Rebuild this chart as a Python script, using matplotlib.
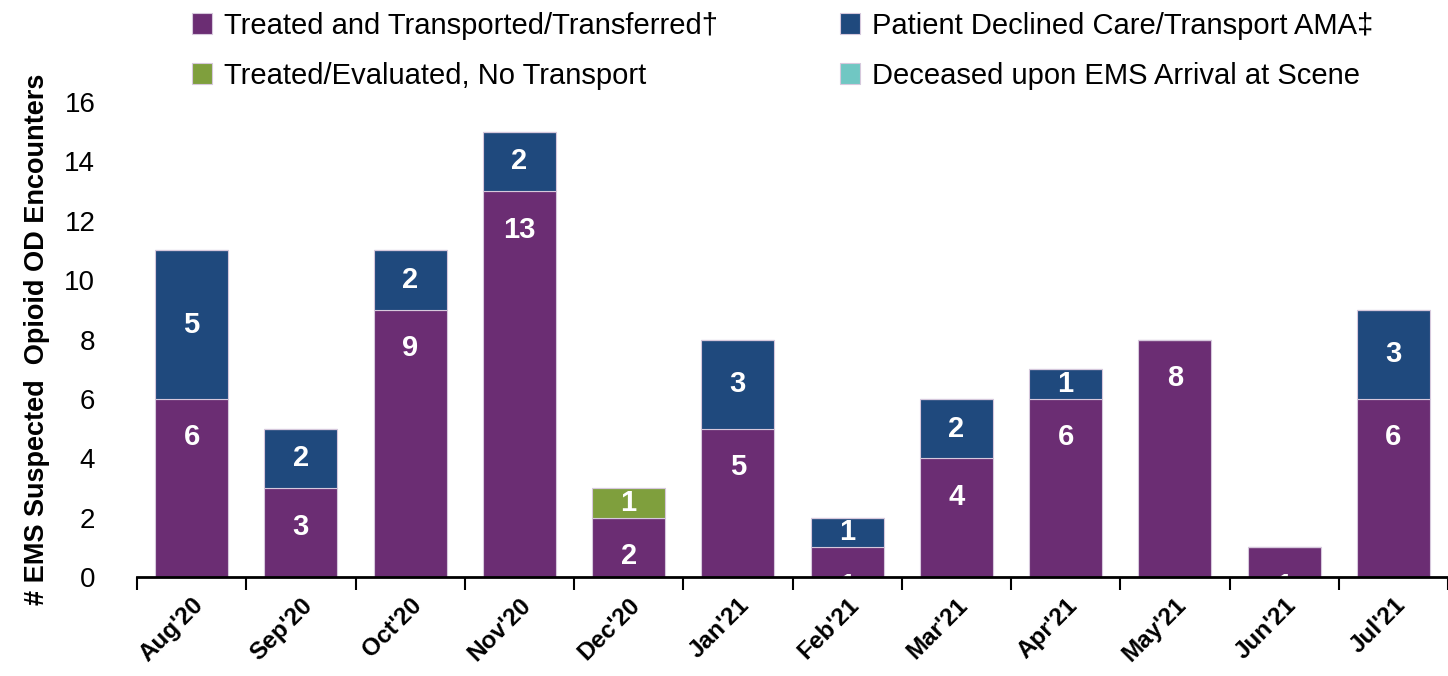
import matplotlib
matplotlib.use("Agg")
import matplotlib.pyplot as plt
import numpy as np

plt.rcParams['font.family'] = ['Liberation Sans', 'DejaVu Sans']

months = ["Aug'20", "Sep'20", "Oct'20", "Nov'20", "Dec'20", "Jan'21",
          "Feb'21", "Mar'21", "Apr'21", "May'21", "Jun'21", "Jul'21"]
transported = [6, 3, 9, 13, 2, 5, 1, 4, 6, 8, 1, 6]
declined_ama = [5, 2, 2, 2, 0, 3, 1, 2, 1, 0, 0, 3]
no_transport = [0, 0, 0, 0, 1, 0, 0, 0, 0, 0, 0, 0]
deceased = [0, 0, 0, 0, 0, 0, 0, 0, 0, 0, 0, 0]

series = [
    ("Treated and Transported/Transferred\u2020", transported, '#6b2d73'),
    ("Patient Declined Care/Transport AMA\u2021", declined_ama, '#1f497d'),
    ("Treated/Evaluated, No Transport", no_transport, '#7f9f3d'),
    ("Deceased upon EMS Arrival at Scene", deceased, '#70c7c3'),
]

fig = plt.figure(figsize=(14.48, 6.76), dpi=100)
ax = fig.add_axes([137 / 1448, 99 / 676, 1311 / 1448, 475 / 676])

ind = np.arange(len(months))
width = 0.67
bottom = np.zeros(len(months))
handles = {}
for idx, (name, vals, color) in enumerate(series):
    vals = np.array(vals, dtype=float)
    bars = ax.bar(ind, vals, width=width, bottom=bottom, color=color,
                  edgecolor='#d6c8dc', linewidth=0.8, label=name, zorder=2)
    handles[name] = bars
    for i, v in enumerate(vals):
        if v <= 0:
            continue
        if idx == 0:
            # first series labels sit near the top of the segment
            y = bottom[i] + v - 1.3
        else:
            y = bottom[i] + v / 2
        ax.text(ind[i], y, f"{int(v)}", ha='center', va='center',
                color='white', fontsize=21, fontweight='bold', zorder=3,
                clip_on=True)
    bottom += vals

ax.set_ylim(0, 16)
ax.set_xlim(-0.5, 11.36)
ax.set_yticks(np.arange(0, 17, 2))
ax.tick_params(axis='y', length=0, labelsize=20, pad=30)

ax.set_xticks(ind)
ax.set_xticklabels(months, rotation=45, ha='right', rotation_mode='anchor',
                   fontsize=17.5, fontweight='bold')
ax.tick_params(axis='x', which='major', length=0, pad=12)
ax.set_xticks(np.arange(-0.5, 12, 1), minor=True)
ax.tick_params(axis='x', which='minor', length=9, width=1.5, direction='out')

for side in ['top', 'right', 'left']:
    ax.spines[side].set_visible(False)
ax.spines['bottom'].set_linewidth(2)
ax.spines['bottom'].set_zorder(4)

ax.set_ylabel("# EMS Suspected  Opioid OD Encounters", fontsize=19.5,
              fontweight='bold', labelpad=10)

names = [s[0] for s in series]
leg_kw = dict(loc='upper left', frameon=False, fontsize=21, handlelength=0.7,
              handleheight=0.7, handletextpad=0.4, labelspacing=0.75,
              borderaxespad=0)
fig.legend([handles[names[0]], handles[names[2]]], [names[0], names[2]],
           bbox_to_anchor=(180 / 1448, 1.0), **leg_kw)
fig.legend([handles[names[1]], handles[names[3]]], [names[1], names[3]],
           bbox_to_anchor=(828 / 1448, 1.0), **leg_kw)

fig.savefig("out.png", dpi=100)
